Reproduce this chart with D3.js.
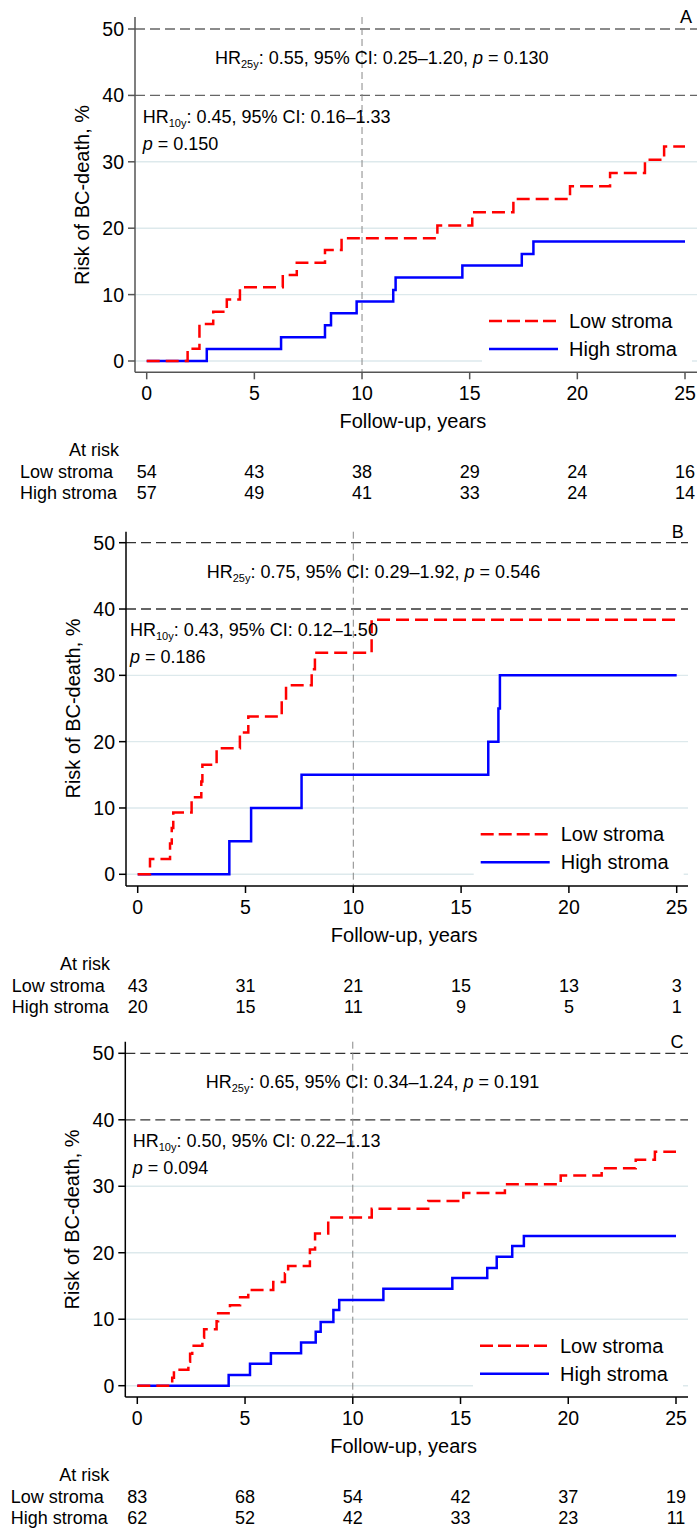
<!DOCTYPE html>
<html><head><meta charset="utf-8">
<script src="https://cdn.jsdelivr.net/npm/d3@7"></script>
<style>
body{margin:0;background:#fff}
svg{display:block}
text{font-family:"Liberation Sans",Arial,Helvetica,sans-serif;fill:#000}
</style>
</head><body>
<svg id="chart" width="699" height="1530"></svg>
<script>
// ---------- data ----------
const xTicks = [0, 5, 10, 15, 20, 25];
const yTicks = [0, 10, 20, 30, 40, 50];
const seriesNames = ["Low stroma", "High stroma"];
const panelLabels = ["A", "B", "C"];

const lowA_time = [0, 1.9, 2.45, 3.09, 3.72, 4.33, 6.32, 6.97, 8.28, 9.05, 13.5, 15.12, 17.03, 19.66, 21.52, 23.14, 24.03, 25];
const lowA_risk = [0, 1.85, 5.56, 7.4, 9.26, 11.1, 12.96, 14.8, 16.7, 18.5, 20.4, 22.4, 24.4, 26.3, 28.3, 30.3, 32.3, 32.3];
const highA_time = [0, 2.79, 6.24, 8.28, 8.56, 9.75, 11.45, 11.56, 14.66, 17.42, 17.96, 25];
const highA_risk = [0, 1.8, 3.57, 5.4, 7.2, 8.95, 10.7, 12.56, 14.4, 16.1, 18.0, 18.0];

const lowB_time = [0, 0.57, 1.5, 1.58, 1.65, 2.5, 2.95, 3.0, 3.66, 4.74, 5.13, 6.68, 6.88, 8.07, 8.22, 10.85, 25];
const lowB_risk = [0, 2.3, 4.65, 7.0, 9.3, 11.6, 14.0, 16.5, 19.0, 21.4, 23.8, 26.2, 28.5, 30.9, 33.4, 38.4, 38.4];
const highB_time = [0, 4.25, 5.26, 7.6, 16.26, 16.73, 16.8, 25];
const highB_risk = [0, 5, 10, 15, 20, 25, 30, 30];

const lowC_time = [0, 1.62, 1.7, 2.37, 2.45, 2.55, 3.02, 3.1, 3.68, 3.75, 4.30, 4.77, 5.15, 6.31, 6.85, 7.0, 8.01, 8.25, 8.86, 10.88, 13.5, 15.13, 17.06, 19.65, 21.55, 23.13, 24.02, 25];
const lowC_risk = [0, 1.2, 2.4, 3.6, 4.8, 6.0, 7.2, 8.5, 9.7, 10.9, 12.1, 13.3, 14.4, 15.6, 16.9, 18.0, 20.5, 22.9, 25.3, 26.6, 27.8, 29.0, 30.3, 31.6, 32.7, 34.0, 35.2, 35.2];
const highC_time = [0, 4.24, 5.23, 6.20, 7.60, 8.28, 8.51, 9.10, 9.37, 11.42, 14.62, 16.24, 16.68, 17.40, 17.94, 25];
const highC_risk = [0, 1.6, 3.3, 4.9, 6.5, 8.1, 9.6, 11.4, 12.9, 14.6, 16.2, 17.7, 19.4, 21.0, 22.5, 22.5];

const atRiskLow = [[54, 43, 38, 29, 24, 16], [43, 31, 21, 15, 13, 3], [83, 68, 54, 42, 37, 19]];
const atRiskHigh = [[57, 49, 41, 33, 24, 14], [20, 15, 11, 9, 5, 1], [62, 52, 42, 33, 23, 11]];

const hr25 = ["0.55", "0.75", "0.65"];
const ci25 = ["0.25\u20131.20", "0.29\u20131.92", "0.34\u20131.24"];
const p25 = ["0.130", "0.546", "0.191"];
const hr10 = ["0.45", "0.43", "0.50"];
const ci10 = ["0.16\u20131.33", "0.12\u20131.50", "0.22\u20131.13"];
const p10 = ["0.150", "0.186", "0.094"];

const lowSeries = [[lowA_time, lowA_risk], [lowB_time, lowB_risk], [lowC_time, lowC_risk]];
const highSeries = [[highA_time, highA_risk], [highB_time, highB_risk], [highC_time, highC_risk]];

// ---------- layout ----------
const layouts = [
  {x0: 146.7, x25: 685, y50: 29, y0: 361, axisY: 372.3, axisX: 135, axisTop: 17, right: 697, axisColor: "#555", refColor: "#666", labelLeft: 20, hr10dx: 7.7, hr25dx: 68.3},
  {x0: 137.7, x25: 676.7, y50: 542.7, y0: 874.3, axisY: 886, axisX: 126, axisTop: 531.7, right: 688, axisColor: "#000", refColor: "#333", labelLeft: 11.7, hr10dx: 4, hr25dx: 69},
  {x0: 137.3, x25: 676, y50: 1053.3, y0: 1385.7, axisY: 1397, axisX: 125.3, axisTop: 1041.7, right: 688, axisColor: "#000", refColor: "#333", labelLeft: 10.7, hr10dx: 7.4, hr25dx: 68.4}
];

const FS = 18;
const base = fs => fs * 0.356; // baseline offset from visual centre of caps
const svg = d3.select("#chart");

layouts.forEach((L, i) => {
  const g = svg.append("g");
  const x = d3.scaleLinear().domain([0, 25]).range([L.x0, L.x25]);
  const y = d3.scaleLinear().domain([0, 50]).range([L.y0, L.y50]);

  // light gridlines
  g.selectAll(".grid").data(yTicks.filter(v => v < 40)).enter().append("line")
    .attr("x1", L.axisX).attr("x2", L.right)
    .attr("y1", d => y(d)).attr("y2", d => y(d))
    .attr("stroke", "#dde9ec").attr("stroke-width", 1.4);

  // reference dashed lines at 40 and 50
  g.selectAll(".ref").data(yTicks.filter(v => v >= 40)).enter().append("line")
    .attr("x1", L.axisX).attr("x2", L.right)
    .attr("y1", d => y(d)).attr("y2", d => y(d))
    .attr("stroke", L.refColor).attr("stroke-width", 1.3)
    .attr("stroke-dasharray", "10,5");

  // vertical dashed line at 10 years
  g.append("line")
    .attr("x1", x(10)).attr("x2", x(10))
    .attr("y1", L.axisTop).attr("y2", L.axisY)
    .attr("stroke", "#888").attr("stroke-width", 1)
    .attr("stroke-dasharray", "7,4");

  // legend box
  g.append("rect")
    .attr("x", L.x25 - 203).attr("y", y(0) - 57)
    .attr("width", 210).attr("height", 62)
    .attr("fill", "#fff");

  // curves
  const line = d3.line().x(d => x(d[0])).y(d => y(d[1])).curve(d3.curveStepAfter);
  const toPts = s => s[0].map((t, k) => [t, s[1][k]]);
  g.append("path").datum(toPts(highSeries[i])).attr("d", line)
    .attr("fill", "none").attr("stroke", "#0000ff").attr("stroke-width", 2.5);
  g.append("path").datum(toPts(lowSeries[i])).attr("d", line)
    .attr("fill", "none").attr("stroke", "#ff0000").attr("stroke-width", 2.5)
    .attr("stroke-dasharray", "13,6");

  // legend
  const legY = [y(0) - 40, y(0) - 12];
  g.append("line").attr("x1", L.x25 - 196).attr("x2", L.x25 - 127)
    .attr("y1", legY[0]).attr("y2", legY[0])
    .attr("stroke", "#ff0000").attr("stroke-width", 2.5).attr("stroke-dasharray", "13,5");
  g.append("line").attr("x1", L.x25 - 196).attr("x2", L.x25 - 127)
    .attr("y1", legY[1]).attr("y2", legY[1])
    .attr("stroke", "#0000ff").attr("stroke-width", 2.5);
  seriesNames.forEach((nm, k) => {
    g.append("text").attr("x", L.x25 - 116).attr("y", legY[k] + base(20))
      .attr("font-size", 20).text(nm);
  });

  // axes
  g.append("line").attr("x1", L.axisX).attr("x2", L.axisX)
    .attr("y1", L.axisTop).attr("y2", L.axisY)
    .attr("stroke", L.axisColor).attr("stroke-width", 1.5);
  g.append("line").attr("x1", L.axisX).attr("x2", L.right)
    .attr("y1", L.axisY).attr("y2", L.axisY)
    .attr("stroke", L.axisColor).attr("stroke-width", 1.5);

  // y ticks
  yTicks.forEach(v => {
    g.append("line").attr("x1", L.axisX - 7).attr("x2", L.axisX)
      .attr("y1", y(v)).attr("y2", y(v))
      .attr("stroke", L.axisColor).attr("stroke-width", 1.5);
    g.append("text").attr("x", L.axisX - 11).attr("y", y(v) + base(19.5))
      .attr("text-anchor", "end").attr("font-size", 19.5).text(v);
  });
  // x ticks
  xTicks.forEach(v => {
    g.append("line").attr("x1", x(v)).attr("x2", x(v))
      .attr("y1", L.axisY).attr("y2", L.axisY + 7)
      .attr("stroke", L.axisColor).attr("stroke-width", 1.5);
    g.append("text").attr("x", x(v)).attr("y", L.axisY + 20.7 + base(19.5))
      .attr("text-anchor", "middle").attr("font-size", 19.5).text(v);
  });

  // axis titles
  g.append("text").attr("x", (L.x0 + L.x25) / 2 - 3).attr("y", L.axisY + 49 + base(20))
    .attr("text-anchor", "middle").attr("font-size", 20).text("Follow-up, years");
  const yc = (L.y0 + L.y50) / 2;
  g.append("text")
    .attr("transform", `translate(${L.axisX - 53 + base(20)},${yc}) rotate(-90)`)
    .attr("text-anchor", "middle").attr("font-size", 20).text("Risk of BC-death, %");

  // panel label
  g.append("text").attr("x", L.x25 + 1).attr("y", L.axisTop + base(FS) - 0.5)
    .attr("text-anchor", "middle").attr("font-size", FS).text(panelLabels[i]);

  // HR 25y text
  const t25 = g.append("text").attr("x", L.x0 + L.hr25dx).attr("y", y(50) + 28.5 + base(FS))
    .attr("font-size", FS);
  t25.append("tspan").text("HR");
  t25.append("tspan").attr("font-size", 11).attr("dy", 4).text("25y");
  t25.append("tspan").attr("dy", -4).text(`: ${hr25[i]}, 95% CI: ${ci25[i]}, `);
  t25.append("tspan").attr("font-style", "italic").text("p");
  t25.append("tspan").text(` = ${p25[i]}`);

  // HR 10y text
  const t10 = g.append("text").attr("x", L.axisX + L.hr10dx).attr("y", y(40) + 21 + base(FS))
    .attr("font-size", FS);
  t10.append("tspan").text("HR");
  t10.append("tspan").attr("font-size", 11).attr("dy", 4).text("10y");
  t10.append("tspan").attr("dy", -4).text(`: ${hr10[i]}, 95% CI: ${ci10[i]}`);
  const tp = g.append("text").attr("x", L.axisX + L.hr10dx).attr("y", y(40) + 48 + base(FS))
    .attr("font-size", FS);
  tp.append("tspan").attr("font-style", "italic").text("p");
  tp.append("tspan").text(` = ${p10[i]}`);

  // at-risk table
  g.append("text").attr("x", L.axisX - 16).attr("y", L.axisY + 77.7 + base(FS))
    .attr("text-anchor", "end").attr("font-size", FS).text("At risk");
  [atRiskLow[i], atRiskHigh[i]].forEach((row, k) => {
    const ry = L.axisY + 77.7 + 21.5 * (k + 1) + base(FS);
    g.append("text").attr("x", L.labelLeft).attr("y", ry)
      .attr("font-size", FS).text(seriesNames[k]);
    row.forEach((n, j) => {
      g.append("text").attr("x", x(xTicks[j])).attr("y", ry)
        .attr("text-anchor", "middle").attr("font-size", FS).text(n);
    });
  });
});
</script>
</body></html>
